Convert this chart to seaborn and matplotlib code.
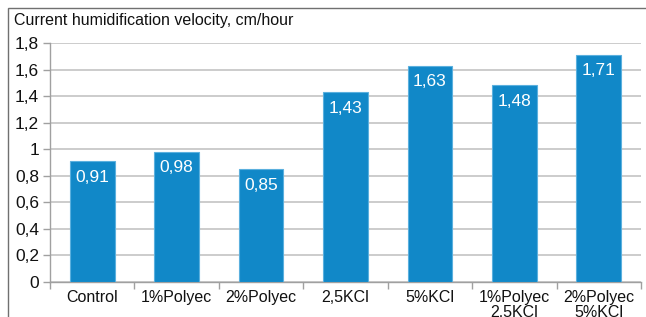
import matplotlib
matplotlib.use("Agg")
import matplotlib.pyplot as plt
import seaborn as sns
import numpy as np
import pandas as pd
from matplotlib.patches import Rectangle

categories = ["Control", "1%Polyec", "2%Polyec", "2,5KCl", "5%KCl", "1%Polyec\n2,5KCl", "2%Polyec\n5%KCl"]
values = [0.91, 0.98, 0.85, 1.43, 1.63, 1.48, 1.71]
yticks = [0, 0.2, 0.4, 0.6, 0.8, 1.0, 1.2, 1.4, 1.6, 1.8]
ytick_labels = ["0", "0,2", "0,4", "0,6", "0,8", "1", "1,2", "1,4", "1,6", "1,8"]
title = "Current humidification velocity, cm/hour"

sns.set_theme(style="white")
plt.rcParams['font.family'] = ['Liberation Sans', 'DejaVu Sans']

W, H = 646, 317
fig = plt.figure(figsize=(W/100, H/100), dpi=100)
ax = fig.add_axes([50/W, 1-282/H, 591/W, 239/H])

df = pd.DataFrame({"cat": categories, "val": values})
sns.barplot(data=df, x="cat", y="val", color="#1188c8", saturation=1, width=0.53, ax=ax, zorder=3)
for p in ax.patches:
    p.set_edgecolor("#5bb0de")
    p.set_linewidth(0.8)

ax.set_ylim(0, 1.8)
ax.set_xlim(-0.5, len(categories)-0.5)
ax.set_yticks(yticks)
ax.set_yticklabels(ytick_labels, fontsize=12.5, color="#111111")
ax.set_xticks(range(len(categories)))
ax.set_xticklabels(categories, fontsize=11.5, color="#111111", linespacing=0.95)
ax.set_xlabel("")
ax.set_ylabel("")
ax.yaxis.grid(True, color="#c8c8c8", linewidth=1.3, zorder=0)
ax.set_axisbelow(True)
for s in ["top", "right"]:
    ax.spines[s].set_visible(False)
for s in ["left", "bottom"]:
    ax.spines[s].set_color("#a0a0a0")
    ax.spines[s].set_linewidth(1.0)
ax.tick_params(axis="y", which="major", length=5, width=1, color="#a0a0a0", direction="out", left=True, pad=3)
ax.tick_params(axis="x", which="major", length=0, pad=6)
ax.set_xticks(np.arange(-0.5, len(categories), 1.0), minor=True)
ax.tick_params(axis="x", which="minor", length=5, width=1, color="#a0a0a0", direction="out", bottom=True)

for i, v in enumerate(values):
    ax.text(i, v - 0.12, f"{v:.2f}".replace(".", ","), ha="center", va="center",
            color="white", fontsize=12.5, zorder=4)

fig.text(14/W, 1-20/H, title, ha="left", va="center", fontsize=11.5, color="#111111")
fig.patches.append(Rectangle((8/W, -0.1), 1.2, 1-8/H+0.1, transform=fig.transFigure,
                             fill=False, edgecolor="#707070", linewidth=1.0))

fig.savefig("out.png", dpi=100)
